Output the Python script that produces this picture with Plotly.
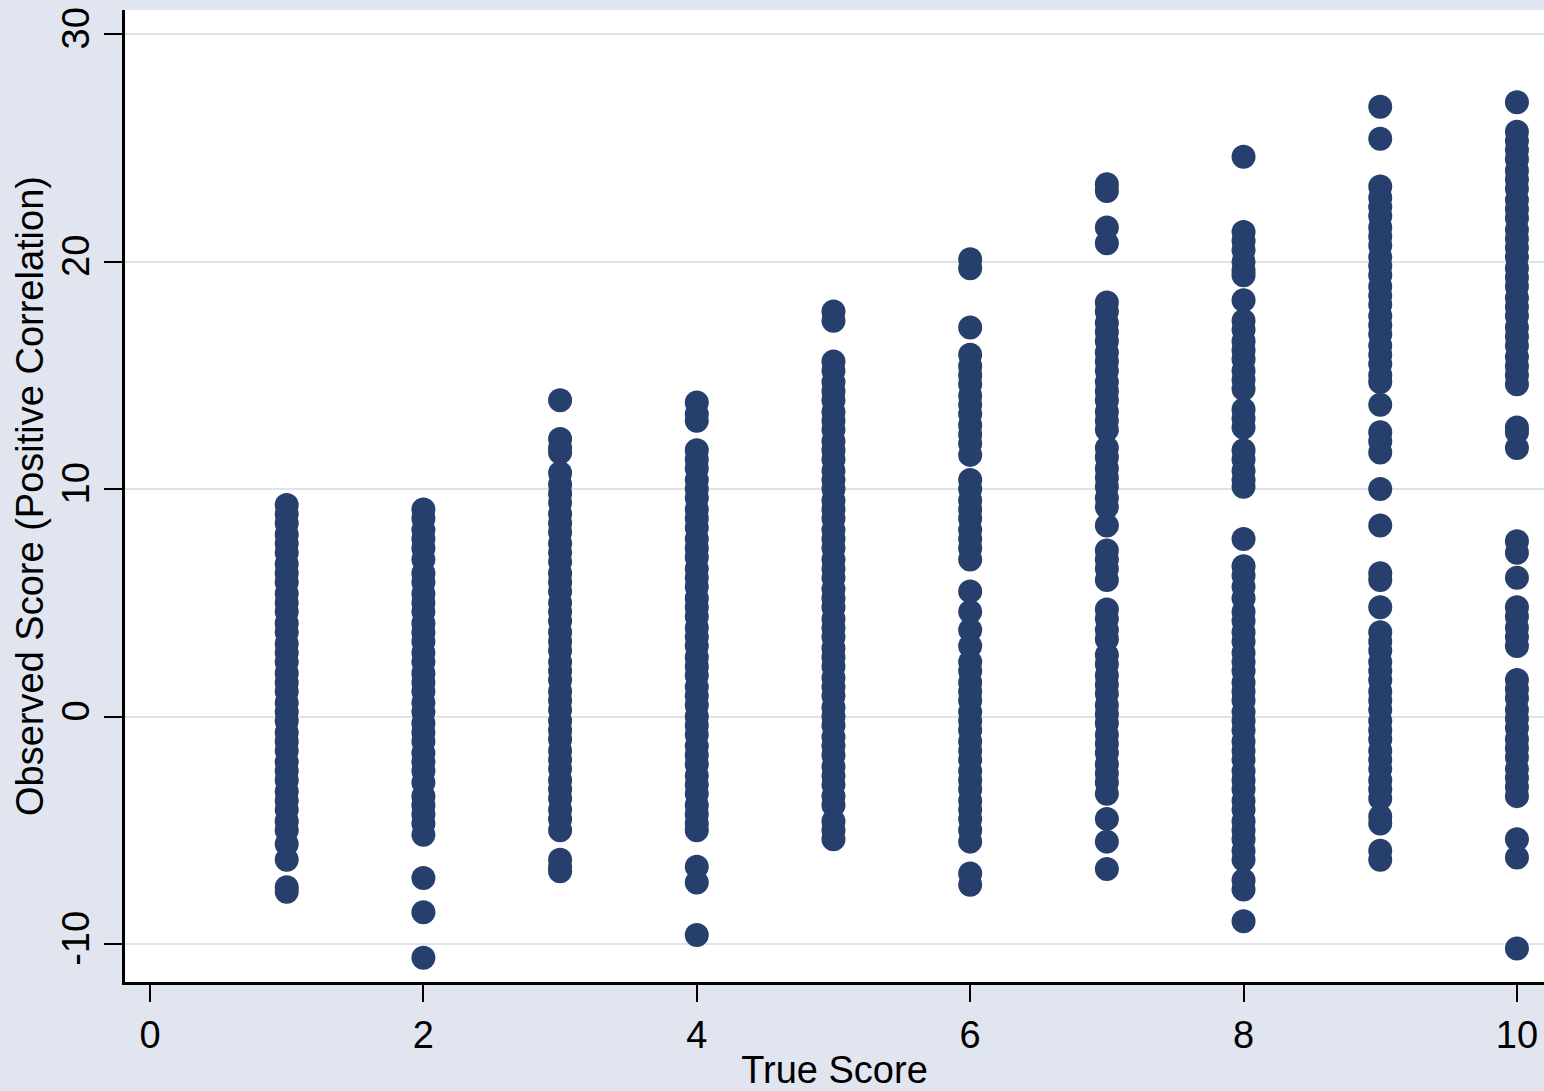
import plotly.graph_objects as go

true_scores = [1, 2, 3, 4, 5, 6, 7, 8, 9, 10]

obs_1 = [9.3, 8.9, 8.5, 8.0, 7.6, 7.2, 6.7, 6.3, 5.9, 5.4, 5.0, 4.6, 4.1, 3.7, 3.2, 2.8, 2.4, 1.9,
         1.5, 1.1, 0.6, 0.2, -0.2, -0.7, -1.1, -1.5, -2.0, -2.4, -2.8, -3.3, -3.7, -4.1, -4.6, -5.0,
         -5.6, -6.3, -7.5, -7.7]
obs_2 = [9.1, 8.7, 8.2, 7.8, 7.4, 6.9, 6.3, 5.9, 5.4, 5.0, 4.6, 4.1, 3.7, 3.3, 2.8, 2.4, 1.9, 1.5,
         1.1, 0.6, 0.2, -0.3, -0.7, -1.1, -1.6, -2.0, -2.4, -2.9, -3.5, -3.9, -4.3, -4.7, -5.2,
         -7.1, -8.6, -10.6]
obs_3 = [13.9, 12.2, 11.8, 11.6, 10.7, 10.2, 9.8, 9.4, 8.9, 8.5, 8.1, 7.6, 7.2, 6.8, 6.3, 5.9, 5.5,
         5.0, 4.6, 4.2, 3.7, 3.3, 2.9, 2.4, 2.0, 1.6, 1.1, 0.7, 0.3, -0.2, -0.6, -1.0, -1.5, -1.9,
         -2.3, -2.8, -3.2, -3.6, -4.1, -4.5, -5.0, -6.3, -6.6, -6.8]
obs_4 = [13.8, 13.3, 13.0, 11.7, 11.3, 10.9, 10.4, 10.0, 9.6, 9.1, 8.7, 8.3, 7.8, 7.4, 7.0, 6.5, 6.1,
         5.7, 5.2, 4.8, 4.4, 3.9, 3.5, 3.1, 2.6, 2.2, 1.8, 1.3, 0.9, 0.5, 0.0, -0.4, -0.8, -1.3,
         -1.7, -2.1, -2.6, -3.0, -3.4, -3.9, -4.3, -4.7, -5.0, -6.6, -7.3, -9.6]
obs_5 = [17.8, 17.4, 15.6, 15.2, 14.7, 14.3, 13.9, 13.4, 13.0, 12.6, 12.1, 11.7, 11.3, 10.8, 10.4,
         10.0, 9.5, 9.1, 8.7, 8.2, 7.8, 7.4, 6.9, 6.5, 6.1, 5.6, 5.2, 4.8, 4.3, 3.9, 3.5, 3.0, 2.6,
         2.2, 1.7, 1.3, 0.9, 0.4, 0.0, -0.4, -0.9, -1.3, -1.7, -2.2, -2.6, -3.0, -3.5, -3.9, -4.6,
         -5.0, -5.4]
obs_6 = [20.1, 19.7, 17.1, 15.9, 15.4, 15.0, 14.6, 14.1, 13.7, 13.3, 12.8, 12.4, 12.0, 11.5, 10.4,
         10.0, 9.5, 9.1, 8.7, 8.2, 7.8, 7.4, 6.9, 5.5, 4.6, 3.8, 3.1, 2.4, 2.0, 1.5, 1.1, 0.7, 0.2,
         -0.2, -0.6, -1.1, -1.5, -1.9, -2.4, -2.8, -3.2, -3.7, -4.1, -4.5, -5.0, -5.5, -6.9, -7.4]
obs_7 = [23.4, 23.1, 21.5, 20.8, 18.2, 17.8, 17.3, 16.9, 16.5, 16.0, 15.6, 15.2, 14.7, 14.3, 13.9,
         13.4, 13.0, 12.6, 11.8, 11.4, 10.9, 10.5, 10.1, 9.6, 9.2, 8.4, 7.3, 6.9, 6.5, 6.0, 4.7, 4.3,
         3.8, 3.4, 2.7, 2.3, 1.8, 1.4, 1.0, 0.5, 0.1, -0.3, -0.8, -1.2, -1.6, -2.1, -2.5, -2.9,
         -3.4, -4.5, -5.5, -6.7]
obs_8 = [24.6, 21.3, 20.9, 20.5, 20.0, 19.6, 19.4, 18.3, 17.4, 17.0, 16.5, 16.1, 15.7, 15.2, 14.8,
         14.4, 13.5, 13.1, 12.7, 11.7, 11.3, 10.8, 10.4, 10.1, 7.8, 6.6, 6.2, 5.7, 5.2, 4.6, 4.2,
         3.7, 3.3, 2.8, 2.4, 2.0, 1.5, 1.1, 0.7, 0.2, -0.2, -0.6, -1.1, -1.5, -1.9, -2.4, -2.8,
         -3.2, -3.7, -4.1, -4.6, -5.0, -5.4, -5.9, -6.3, -7.2, -7.6, -9.0]
obs_9 = [26.8, 25.4, 23.3, 22.8, 22.4, 22.0, 21.5, 21.1, 20.7, 20.2, 19.8, 19.4, 18.9, 18.5, 18.1,
         17.6, 17.2, 16.8, 16.3, 15.9, 15.5, 15.0, 14.7, 13.7, 12.5, 12.1, 11.6, 10.0, 8.4, 6.3,
         6.0, 4.8, 3.7, 3.3, 2.9, 2.4, 2.0, 1.6, 1.1, 0.7, 0.3, -0.2, -0.6, -1.0, -1.5, -1.9, -2.3,
         -2.8, -3.2, -3.6, -4.4, -4.7, -5.9, -6.3]
obs_10 = [27.0, 25.7, 25.3, 24.9, 24.5, 24.0, 23.6, 23.2, 22.7, 22.3, 21.9, 21.4, 21.0, 20.6, 20.2,
          19.7, 19.3, 18.9, 18.4, 18.0, 17.6, 17.1, 16.7, 16.3, 15.8, 15.4, 15.0, 14.6, 12.7, 12.5,
          11.8, 7.7, 7.2, 6.1, 4.8, 4.4, 3.9, 3.5, 3.1, 1.6, 1.2, 0.8, 0.3, -0.1, -0.5, -1.0, -1.4,
          -1.8, -2.3, -2.7, -3.1, -3.5, -5.4, -6.2, -10.2]

x_ticks = [0, 2, 4, 6, 8, 10]
y_ticks = [-10, 0, 10, 20, 30]

columns = [obs_1, obs_2, obs_3, obs_4, obs_5, obs_6, obs_7, obs_8, obs_9, obs_10]
xs, ys = [], []
for t, col in zip(true_scores, columns):
    xs += [t] * len(col)
    ys += col

FONT = "Arial, Liberation Sans, sans-serif"
BG = "#e0e5ef"
MARK = "#263f6c"

fig = go.Figure(go.Scatter(
    x=xs, y=ys, mode="markers",
    marker=dict(size=24, color=MARK, line=dict(width=0)),
    showlegend=False, hoverinfo="x+y",
))

fig.update_layout(
    width=1544, height=1091,
    paper_bgcolor=BG, plot_bgcolor="white",
    margin=dict(l=125, r=0, t=10, b=109),
    font=dict(family=FONT, size=38, color="black"),
    xaxis=dict(
        range=[-0.183, 10.198], tickvals=x_ticks, ticktext=[str(v) for v in x_ticks],
        showgrid=False, zeroline=False,
        showline=True, linecolor="black", linewidth=3,
        ticks="outside", ticklen=17, tickwidth=2, tickcolor="black",
        tickfont=dict(size=38, family=FONT),
        title=dict(text="True Score", font=dict(size=38, family=FONT), standoff=6),
    ),
    yaxis=dict(
        range=[-11.67, 31.055], tickvals=y_ticks, ticktext=[str(v) for v in y_ticks],
        showgrid=True, gridcolor="#dde2ed", gridwidth=2, zeroline=False,
        showline=True, linecolor="black", linewidth=3,
        ticks="outside", ticklen=18, tickwidth=2, tickcolor="black",
        tickangle=-90,
        tickfont=dict(size=38, family=FONT),
        title=dict(text="Observed Score (Positive Correlation)", font=dict(size=38, family=FONT), standoff=0),
    ),
)

fig.write_html(
    "out.html",
    config={"displayModeBar": False},
    post_script="document.body.style.margin='0';document.body.style.overflow='hidden';",
)
